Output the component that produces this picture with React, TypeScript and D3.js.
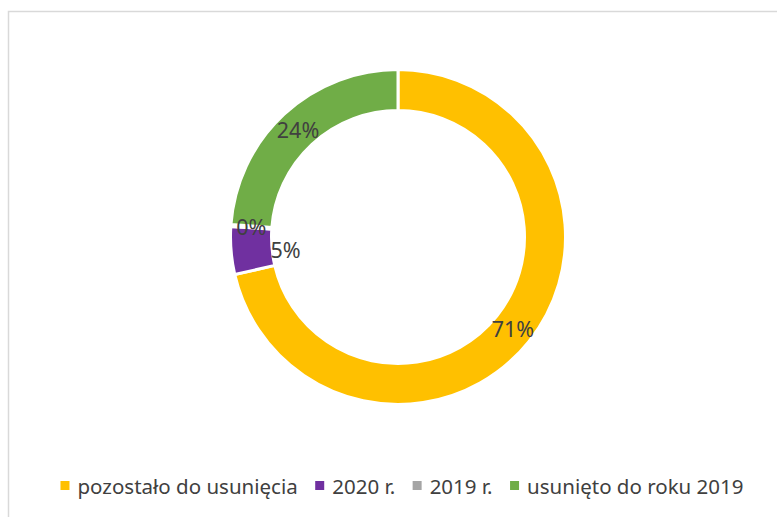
import { useEffect, useRef } from 'react'
import * as d3 from 'd3'

// shares of the ring, clockwise from 12 o'clock
const categories = ['pozostało do usunięcia', '2020 r.', '2019 r.', 'usunięto do roku 2019']
const values = [71.4, 4.6, 0.2, 23.8]
const colors = ['#FFC000', '#7030A0', '#A5A5A5', '#70AD47']
// Excel pushed the "5%" label sideways so it does not sit on "0%"
const labelNudgeX = [0, 34, 0, 0]

interface Slice {
  name: string
  value: number
  color: string
  nudge: number
}

export default function App() {
  const ref = useRef<SVGSVGElement | null>(null)

  useEffect(() => {
    const svg = d3.select(ref.current)
    svg.selectAll('*').remove()

    const width = 777
    const height = 517
    const cx = 398
    const cy = 237
    const outer = 167.5
    const inner = 126.5

    // * Chart frame (runs past right/bottom edge like the screenshot)
    svg
      .append('rect')
      .attr('x', 8.5)
      .attr('y', 11.5)
      .attr('width', width + 20)
      .attr('height', height + 20)
      .attr('fill', 'white')
      .attr('stroke', '#d9d9d9')
      .attr('stroke-width', 1.5)

    const data: Slice[] = categories.map((name, i) => ({
      name,
      value: values[i],
      color: colors[i],
      nudge: labelNudgeX[i],
    }))

    const pie = d3
      .pie<Slice>()
      .value((d) => d.value)
      .sort(null)

    const arc = d3
      .arc<d3.PieArcDatum<Slice>>()
      .innerRadius(inner)
      .outerRadius(outer)

    const labelArc = d3
      .arc<d3.PieArcDatum<Slice>>()
      .innerRadius((inner + outer) / 2)
      .outerRadius((inner + outer) / 2)

    const total = d3.sum(values)
    const arcs = pie(data)

    const chart = svg.append('g').attr('transform', `translate(${cx},${cy})`)

    chart
      .selectAll('.slice')
      .data(arcs)
      .enter()
      .append('path')
      .attr('class', 'slice')
      .attr('d', arc)
      .attr('fill', (d) => d.data.color)
      .attr('stroke', 'white')
      .attr('stroke-width', 3)

    // * Percentage labels
    chart
      .selectAll('.label')
      .data(arcs)
      .enter()
      .append('text')
      .attr('class', 'label')
      .attr('x', (d) => labelArc.centroid(d)[0] + d.data.nudge)
      .attr('y', (d) => labelArc.centroid(d)[1])
      .attr('text-anchor', 'middle')
      .attr('dominant-baseline', 'central')
      .attr('font-family', '"Noto Sans", sans-serif')
      .attr('font-size', 21.5)
      .attr('fill', '#404040')
      .text((d) => `${Math.round((d.data.value / total) * 100)}%`)

    // * Legend along the bottom, centred under the ring
    const legend = svg.append('g')
    const sw = 9
    const gapText = 8
    const gapItem = 17.5
    const items = legend
      .selectAll('.item')
      .data(data)
      .enter()
      .append('g')
      .attr('class', 'item')

    items
      .append('rect')
      .attr('width', sw)
      .attr('height', sw)
      .attr('y', -13)
      .attr('fill', (d) => d.color)

    const labels = items
      .append('text')
      .attr('x', sw + gapText)
      .attr('font-family', '"Noto Sans", sans-serif')
      .attr('font-size', 20.5)
      .attr('fill', '#404040')
      .text((d) => d.name)

    const widths: number[] = []
    labels.each(function () {
      widths.push((this as SVGTextElement).getComputedTextLength())
    })
    const itemW = widths.map((w) => sw + gapText + w)
    const legendW = d3.sum(itemW) + gapItem * (itemW.length - 1)
    let x = 402 - legendW / 2
    const xs: number[] = []
    itemW.forEach((w) => {
      xs.push(x)
      x += w + gapItem
    })
    items.attr('transform', (_, i) => `translate(${xs[i]},494)`)
  }, [])

  return (
    <svg
      ref={ref}
      width={777}
      height={517}
      style={{ position: 'absolute', left: 0, top: 0, background: 'white' }}
    />
  )
}
